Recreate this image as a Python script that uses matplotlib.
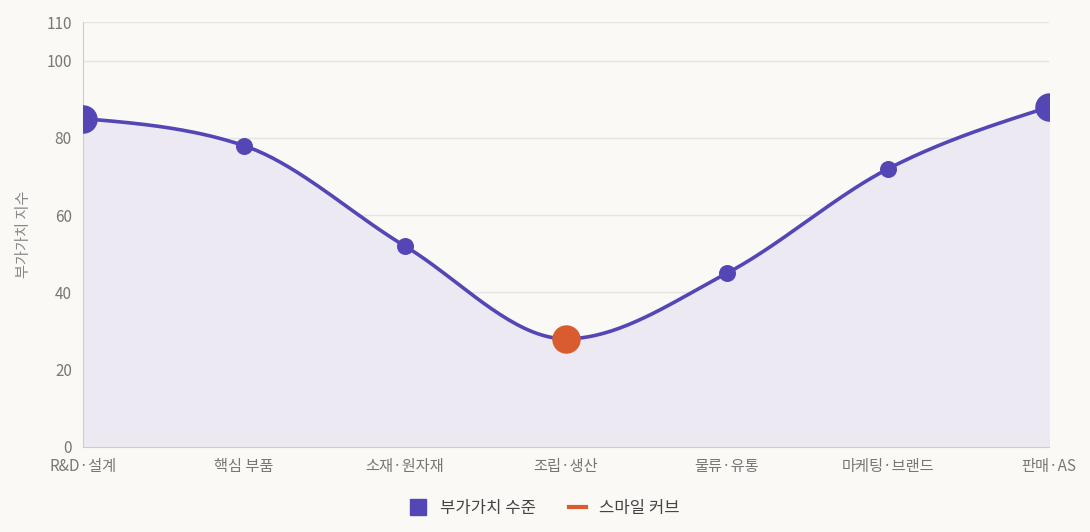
import numpy as np
import matplotlib.pyplot as plt
from matplotlib.lines import Line2D

plt.rcParams['font.family'] = ['Noto Sans CJK KR', 'DejaVu Sans']

stages = ['R&D·설계', '핵심 부품', '소재·원자재', '조립·생산', '물류·유통', '마케팅·브랜드', '판매·AS']
values = [85, 78, 52, 28, 45, 72, 88]
big = [True, False, False, True, False, False, True]
highlight = [False, False, False, True, False, False, False]

purple = '#5447b5'
orange = '#d95c30'
bg = '#faf9f5'


def monotone(x, y, n=40):
    # monotone cubic interpolation (like d3 curveMonotoneX)
    x = np.asarray(x, float); y = np.asarray(y, float)
    h = np.diff(x); s = np.diff(y) / h
    m = np.zeros_like(y)
    for i in range(1, len(y) - 1):
        if s[i - 1] * s[i] <= 0:
            m[i] = 0
        else:
            p = (s[i - 1] * h[i] + s[i] * h[i - 1]) / (h[i - 1] + h[i])
            m[i] = np.sign(s[i - 1]) * min(abs(s[i - 1]), abs(s[i]), 0.5 * abs(p)) * 2
    m[0] = (3 * s[0] - m[1]) / 2
    m[-1] = (3 * s[-1] - m[-2]) / 2
    xs, ys = [], []
    for i in range(len(h)):
        t = np.linspace(0, 1, n)
        h00 = 2 * t**3 - 3 * t**2 + 1; h10 = t**3 - 2 * t**2 + t
        h01 = -2 * t**3 + 3 * t**2; h11 = t**3 - t**2
        xs.append(x[i] + t * h[i])
        ys.append(h00 * y[i] + h10 * h[i] * m[i] + h01 * y[i + 1] + h11 * h[i] * m[i + 1])
    return np.concatenate(xs), np.concatenate(ys)


fig = plt.figure(figsize=(10.9, 5.32), dpi=100, facecolor=bg)
ax = fig.add_axes([0.0761, 0.1598, 0.8863, 0.7988], facecolor=bg)

x = np.arange(len(stages))
cx, cy = monotone(x, values)
ax.fill_between(cx, 0, cy, color='#ece9f2', zorder=1)
ax.plot(cx, cy, color=purple, lw=2.6, zorder=2)
for xi, v, b, hl in zip(x, values, big, highlight):
    ax.scatter(xi, v, s=(420 if b else 150), color=(orange if hl else purple), zorder=3, linewidths=0)

ax.set_xlim(0, len(stages) - 1)
ax.set_ylim(0, 110)
ax.set_yticks([0, 20, 40, 60, 80, 100, 110])
ax.set_xticks(x)
ax.set_xticklabels(stages)
ax.grid(axis='y', color='#e6e3e3', lw=1)
ax.set_axisbelow(True)
for sp in ['top', 'right']:
    ax.spines[sp].set_visible(False)
for sp in ['left', 'bottom']:
    ax.spines[sp].set_color('#cfcccc')
ax.tick_params(colors='#777777', labelsize=11, length=0, pad=8)
ax.set_ylabel('부가가치 지수', color='#888888', fontsize=11, labelpad=10)

handles = [Line2D([], [], marker='s', ls='none', color=purple, markersize=11),
           Line2D([], [], color=orange, lw=3)]
fig.legend(handles, ['부가가치 수준', '스마일 커브'], loc='lower center', ncol=2,
           bbox_to_anchor=(0.5, 0.0), frameon=False, fontsize=12, handlelength=1.0,
           columnspacing=2.0, labelcolor='#444444')

fig.savefig('out.png', facecolor=bg)
